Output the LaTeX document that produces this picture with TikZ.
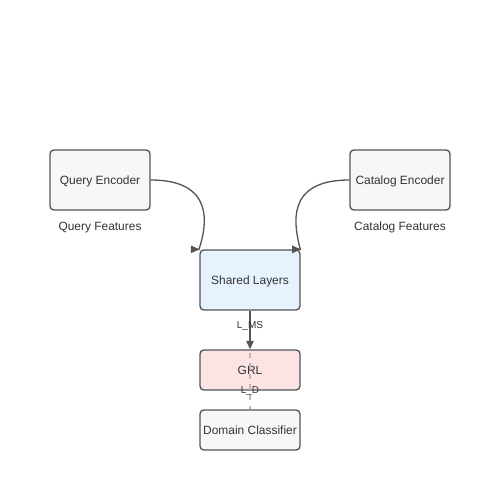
\documentclass[tikz,border=0pt]{standalone}
\usepackage{fontspec}
\setmainfont{Liberation Sans}
\usetikzlibrary{arrows.meta}
\definecolor{boxline}{HTML}{555555}
\definecolor{boxgray}{HTML}{F7F7F7}
\definecolor{boxblue}{HTML}{E6F2FD}
\definecolor{boxred}{HTML}{FDE4E4}
\definecolor{txt}{HTML}{333333}
\begin{document}
\begin{tikzpicture}[x=0.02cm, y=-0.02cm,
    block/.style={draw=boxline, line width=0.75pt, rounded corners=2.2pt, fill=boxgray,
        minimum width=2cm, minimum height=1.2cm, inner sep=0pt, text=txt, text depth=0pt,
        font=\fontsize{6.8}{8}\selectfont},
    flat/.style={block, minimum height=0.8cm},
    edge/.style={draw=boxline, line width=0.75pt, -{Triangle[length=4.8pt, width=4.2pt]}},
    lbl/.style={text=txt, font=\fontsize{5.7}{7}\selectfont, inner sep=0pt}]
    \useasboundingbox (0,0) rectangle (500,500);
    % boxes
    \node[block] (qenc) at (100,180) {Query Encoder};
    \node[block] (cenc) at (400,180) {Catalog Encoder};
    \node[block, fill=boxblue] (shared) at (250,280) {Shared Layers};
    \node[flat, fill=boxred] (grl) at (250,370) {GRL};
    \node[flat] (dom) at (250,430) {Domain Classifier};
    \node[text=txt, text depth=0pt, font=\fontsize{6.8}{8}\selectfont] (qfeat) at (100,226) {Query Features};
    \node[text=txt, text depth=0pt, font=\fontsize{6.8}{8}\selectfont] (cfeat) at (400,226) {Catalog Features};
    % connectors
    \draw[edge] (qenc.east) .. controls (215,180) and (207,225) .. ([xshift=-0.2pt]shared.north west) -- (shared.north west);
    \draw[edge] (cenc.west) .. controls (285,180) and (294,225) .. ([xshift=-0.2pt]shared.north east) -- (shared.north east);
    \draw[draw=gray!55, line width=0.75pt, dashed] (shared.south) -- (dom.north);
    \draw[edge] (shared.south) -- (grl.north);
    \node[lbl] (lms) at (250,326) {L\_MS};
    \node[lbl] (ld) at (250,391) {L\_D};
\end{tikzpicture}
\end{document}
